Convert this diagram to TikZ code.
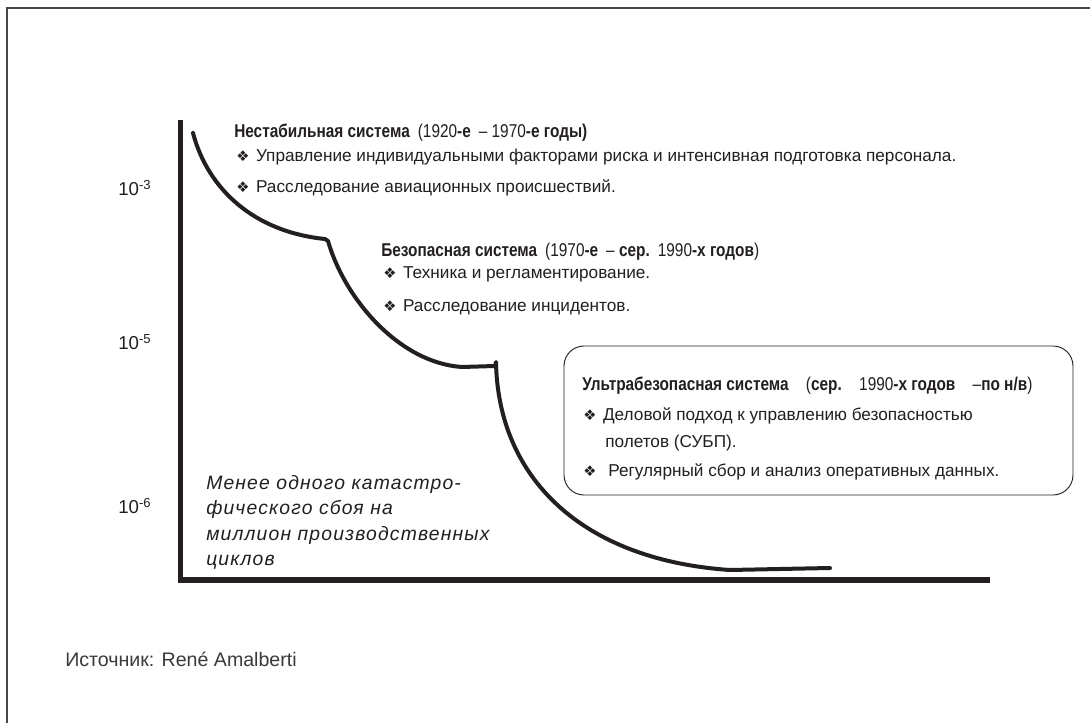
\documentclass[tikz,border=0pt]{standalone}
\usepackage{fontspec}
\setmainfont{Liberation Sans}
\newfontfamily\condfont[FakeStretch=0.83]{Liberation Sans}
\newfontfamily\spacedfont[LetterSpace=6]{Liberation Sans}
\newfontfamily\dingfont{DejaVu Sans}
\definecolor{ink}{HTML}{231F20}
\definecolor{srcgray}{HTML}{3A3A3A}
% bullet glyph, bold run and wide gap inside headings
\newcommand\dia{{\dingfont\fontsize{11}{12}\selectfont ❖}}
\newcommand\cb[1]{{\bfseries #1}}
\newcommand\gap{\hspace{6pt}}

\begin{document}
\begin{tikzpicture}[x=0.75pt,y=-0.75pt,
  lbl/.style={anchor=base west, inner sep=0, text=ink,
    font=\fontsize{12.9}{15}\selectfont},
  ttl/.style={lbl, font=\condfont\fontsize{13.9}{16}\selectfont},
  tick/.style={anchor=base west, inner sep=0, text=ink,
    font=\fontsize{14}{16}\selectfont},
  notetext/.style={anchor=base west, inner sep=0, text=ink,
    font=\spacedfont\itshape\fontsize{14.5}{17}\selectfont},
  axisline/.style={draw=ink, line width=3.8pt},
  trend/.style={draw=ink, line width=3pt, line cap=round, line join=round},
  framebox/.style={draw=black!72, line width=1.3pt},
  eraframe/.style={draw=ink, line width=0.7pt, rounded corners=15pt}]
\useasboundingbox (0,0) rectangle (1090,723);
\fill[white] (0,0) rectangle (1090,723);

% outer frame (open to the right and bottom)
\draw[framebox] (7,723) -- (7,8) -- (1090,8);

% axes
\coordinate (top) at (180.5,120);
\coordinate (origin) at (180.5,580);
\coordinate (xend) at (990,580);
\draw[axisline] (top) -- (origin) -- (xend);

% stepwise trend curve
\coordinate (c0) at (193,133);
\coordinate (c1) at (325,239);
\coordinate (c1b) at (328,241);
\coordinate (c2) at (462,367);
\coordinate (c2b) at (495,366);
\coordinate (c3) at (496,362);
\coordinate (c4) at (730,570);
\coordinate (c5) at (830,568);
\draw[trend] (c0) .. controls (208,190) and (255,232) .. (c1)
  -- (c1b) .. controls (345,300) and (400,363) .. (c2) -- (c2b)
  -- (c3) .. controls (498,478) and (582,560) .. (c4) -- (c5);

% axis tick labels
\node[tick] (t3) at (118,196) {10\textsuperscript{-3}};
\node[tick] (t5) at (118,350) {10\textsuperscript{-5}};
\node[tick] (t6) at (118,514) {10\textsuperscript{-6}};

% era 1
\node[ttl] (e1) at (234,138) {\cb{Нестабильная система}\gap(1920\cb{-е}\gap–\ 1970\cb{-е годы)}};
\node[lbl] (e1a) at (236,162) {\dia\hspace{5pt}Управление индивидуальными факторами риска и интенсивная подготовка персонала.};
\node[lbl] (e1b) at (236,193) {\dia\hspace{5pt}Расследование авиационных происшествий.};

% era 2
\node[ttl] (e2) at (381,257) {\cb{Безопасная система}\gap(1970\cb{-е}\gap– \cb{сер.}\gap1990\cb{-х годов})};
\node[lbl] (e2a) at (383,279) {\dia\hspace{5pt}Техника и регламентирование.};
\node[lbl] (e2b) at (383,312) {\dia\hspace{5pt}Расследование инцидентов.};

% era 3 in a rounded frame
\draw[eraframe] (564,346) rectangle (1073,495);
\node[ttl] (e3) at (582,391) {\cb{Ультрабезопасная система}\hspace{13pt}(\cb{сер.}\hspace{13pt}1990\cb{-х годов}\hspace{13pt}–\cb{по н/в})};
\node[lbl] (e3a) at (583,421) {\dia\hspace{5pt}Деловой подход к управлению безопасностью};
\node[lbl] (e3b) at (605,448) {полетов (СУБП).};
\node[lbl] (e3c) at (583,477) {\dia\hspace{9pt}Регулярный сбор и анализ оперативных данных.};

% note under the curve
\node[notetext] (note1) at (206,490) {Менее одного катастро-};
\node[notetext] (note2) at (206,515) {фического сбоя на};
\node[notetext] (note3) at (206,541) {миллион производственных};
\node[notetext] (note4) at (206,566) {циклов};

% source
\node[anchor=base west, inner sep=0, text=srcgray,
  font=\fontsize{14.7}{16}\selectfont] (src) at (65,667)
  {Источник: René Amalberti};
\end{tikzpicture}
\end{document}
